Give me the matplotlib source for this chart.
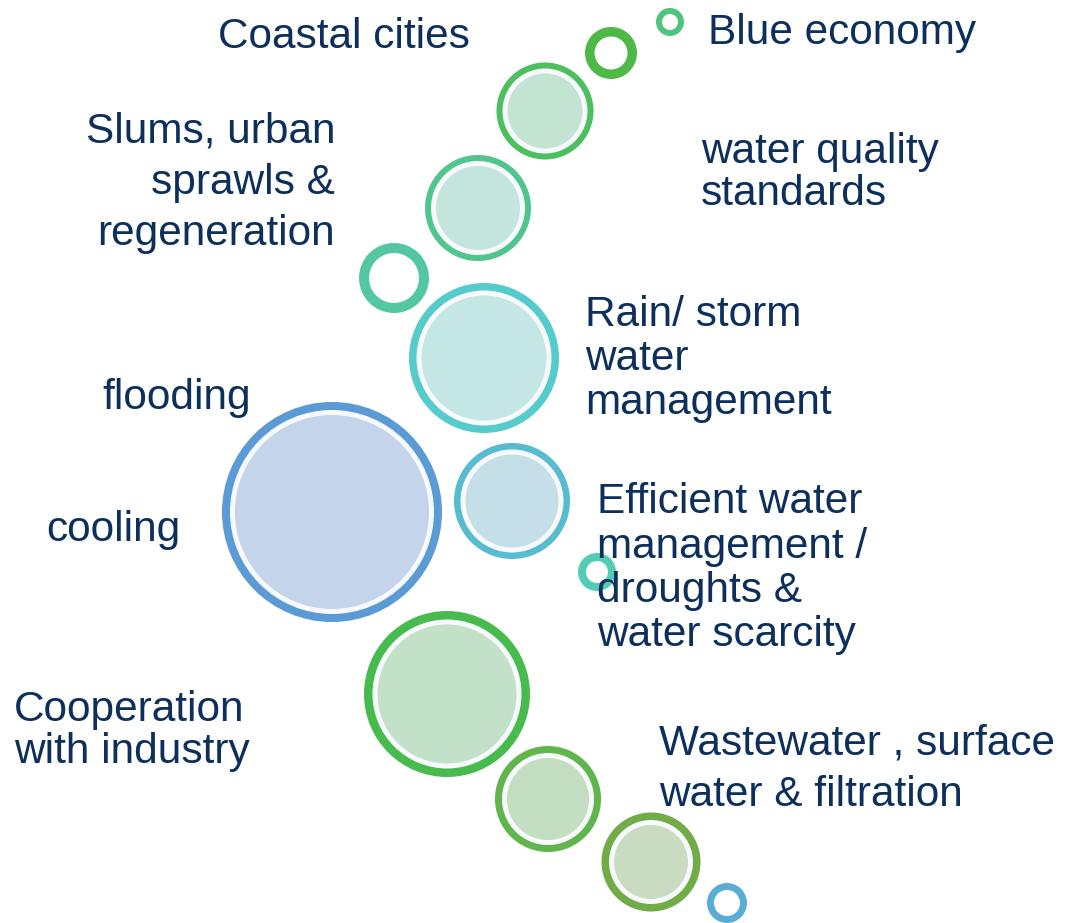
import matplotlib.pyplot as plt
from matplotlib.patches import Circle

# bubbles: centre x, centre y (pixels from top), outer radius, ring width, fill colour (None = hollow)
bx = [670, 611, 545, 478, 394, 484, 332, 512, 597, 447, 548, 651, 727]
by = [22, 53, 111, 208, 278, 358, 512, 501, 572, 694, 799, 862, 903]
br = [14, 26, 48.5, 53, 35, 75, 110, 58, 19, 83, 53, 49.5, 20]
ring_w = [6, 9.5, 6, 6, 10, 7.5, 8, 6.5, 8, 8.5, 7, 7.5, 7]
ring_c = ['#4fc47c', '#4fb947', '#4cbf5f', '#50c68c', '#52c7a2', '#55cbcc', '#5b9bd5',
          '#58bcd0', '#52ccb4', '#48bb4e', '#60b64d', '#71ac47', '#5aaed6']
fill_c = [None, None, '#c4e4d3', '#c3e5dc', None, '#c4e7e6', '#c4d4ea',
          '#c5dfe9', None, '#c3e0c9', '#c3dec1', '#c9dbc1', None]

# labels: lines, left/right x, baseline y of each line, alignment
labels = [
    (['Coastal cities'], 218, [48], 'left'),
    (['Blue economy'], 708, [44], 'left'),
    (['Slums, urban', 'sprawls &', 'regeneration'], 335, [143, 194, 245], 'right'),
    (['water quality', 'standards'], 701, [163, 205], 'left'),
    (['Rain/ storm', 'water', 'management'], 585, [326, 370, 414], 'left'),
    (['flooding'], 102, [409], 'left'),
    (['cooling'], 46, [541], 'left'),
    (['Efficient water', 'management /', 'droughts &', 'water scarcity'], 597, [513, 558, 602, 646], 'left'),
    (['Cooperation', 'with industry'], 14, [721, 763], 'left'),
    (['Wastewater , surface', 'water & filtration'], 659, [754, 806], 'left'),
]

fig = plt.figure(figsize=(10.66, 9.23), dpi=100)
ax = fig.add_axes([0, 0, 1, 1])
ax.set_xlim(0, 1066)
ax.set_ylim(923, 0)
ax.set_aspect('equal')
ax.axis('off')

for i in range(len(bx)):
    ax.add_patch(Circle((bx[i], by[i]), br[i], color=ring_c[i], zorder=2, lw=0))
    inner = 'white' if fill_c[i] is None else '#f8f9fc'
    ax.add_patch(Circle((bx[i], by[i]), br[i] - ring_w[i], color=inner, zorder=3, lw=0))
    if fill_c[i] is not None:
        ax.add_patch(Circle((bx[i], by[i]), br[i] - ring_w[i] - 5, color=fill_c[i], zorder=4, lw=0))

for lines, x, ys, ha in labels:
    for line, y in zip(lines, ys):
        ax.text(x, y, line, ha=ha, va='baseline', fontsize=30.5, color='#0c2f5c',
                family='Liberation Sans', zorder=5)

fig.savefig('out.png', dpi=100)
